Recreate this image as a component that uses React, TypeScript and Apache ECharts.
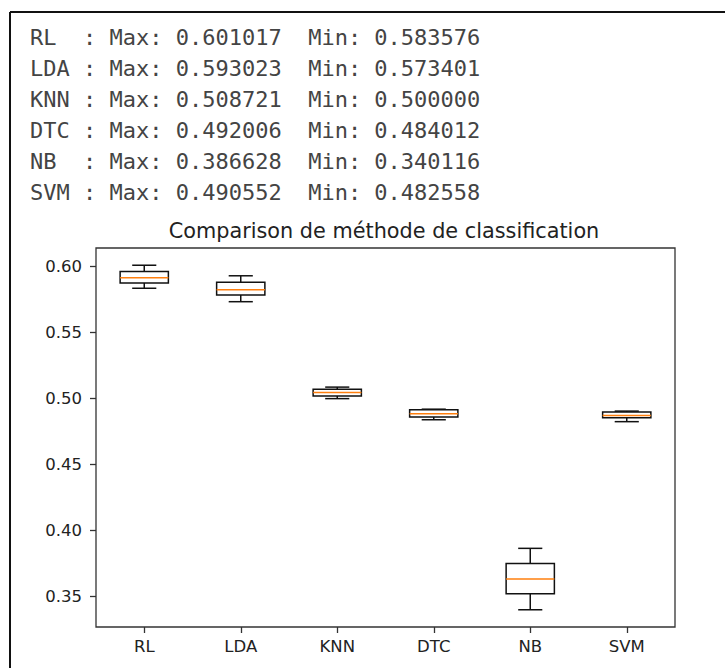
import React, { useEffect, useRef } from "react";
import * as echarts from "echarts";

const categories = ["RL", "LDA", "KNN", "DTC", "NB", "SVM"];
const whiskerMin = [0.583576, 0.573401, 0.5, 0.484012, 0.340116, 0.482558];
const whiskerMax = [0.601017, 0.593023, 0.508721, 0.492006, 0.386628, 0.490552];
const q1 = [0.5875, 0.5784, 0.502, 0.486, 0.3523, 0.4855];
const median = [0.5916, 0.5825, 0.5046, 0.4886, 0.3635, 0.4873];
const q3 = [0.5962, 0.5881, 0.5071, 0.4915, 0.3751, 0.4898];
const yTicks = [0.35, 0.4, 0.45, 0.5, 0.55, 0.6];
const titleText = "Comparison de méthode de classification";

export default function App() {
  const ref = useRef<HTMLDivElement>(null);
  useEffect(() => {
    if (!ref.current) return;
    const chart = echarts.init(ref.current, null, { renderer: "svg" });

    const lines = categories.map(
      (c, i) =>
        `${c.padEnd(3, " ")} : Max: ${whiskerMax[i].toFixed(6)}  Min: ${whiskerMin[i].toFixed(6)}`
    );

    const monoTexts = lines.map((t, i) => ({
      type: "text",
      x: 30,
      y: 37.5 + 31 * i,
      style: {
        text: t,
        font: '22px "DejaVu Sans Mono", monospace',
        fill: "#444",
        textAlign: "left",
        textVerticalAlign: "middle",
      },
    }));

    const data = categories.map((c, i) => [i, whiskerMin[i], q1[i], median[i], q3[i], whiskerMax[i]]);

    const option: any = {
      animation: false,
      grid: {
        left: 96,
        right: 50,
        top: 248,
        bottom: 41,
        show: true,
        borderColor: "#333",
        borderWidth: 1.3,
        backgroundColor: "transparent",
      },
      xAxis: {
        type: "category",
        data: categories,
        boundaryGap: true,
        axisLine: { show: false },
        axisTick: { show: true, alignWithLabel: true, length: 6, lineStyle: { color: "#333", width: 1.3 } },
        axisLabel: {
          color: "#222",
          fontFamily: "DejaVu Sans",
          fontSize: 16.5,
          margin: 11,
        },
        splitLine: { show: false },
      },
      yAxis: {
        type: "value",
        min: 0.32707,
        max: 0.61406,
        axisLine: { show: false },
        axisTick: {
          show: true,
          length: 6,
          customValues: yTicks,
          lineStyle: { color: "#333", width: 1.3 },
        },
        axisLabel: {
          color: "#222",
          fontFamily: "DejaVu Sans",
          fontSize: 16.5,
          margin: 14,
          customValues: yTicks,
          formatter: (v: number) => v.toFixed(2),
        },
        splitLine: { show: false },
      },
      graphic: [
        {
          type: "line",
          shape: { x1: 10, y1: 12, x2: 725, y2: 12 },
          style: { stroke: "#111", lineWidth: 2 },
        },
        {
          type: "line",
          shape: { x1: 10, y1: 12, x2: 10, y2: 668 },
          style: { stroke: "#111", lineWidth: 2 },
        },
        ...monoTexts,
        {
          type: "text",
          x: 384,
          y: 231,
          style: {
            text: titleText,
            font: '20.8px "DejaVu Sans", sans-serif',
            fill: "#222",
            textAlign: "center",
            textVerticalAlign: "middle",
          },
        },
      ],
      series: [
        {
          type: "custom",
          data,
          encode: { x: 0, y: [1, 2, 3, 4, 5] },
          renderItem: (params: any, api: any) => {
            const x = api.value(0);
            const lo = api.coord([x, api.value(1)]);
            const b1 = api.coord([x, api.value(2)]);
            const md = api.coord([x, api.value(3)]);
            const b3 = api.coord([x, api.value(4)]);
            const hi = api.coord([x, api.value(5)]);
            const band = api.size([1, 0])[0];
            const bw = band * 0.5;
            const cw = bw / 2;
            const cx = lo[0];
            const stroke = { stroke: "#111", lineWidth: 1.5, fill: "none" };
            return {
              type: "group",
              children: [
                { type: "line", shape: { x1: cx, y1: b3[1], x2: cx, y2: hi[1] }, style: stroke },
                { type: "line", shape: { x1: cx, y1: b1[1], x2: cx, y2: lo[1] }, style: stroke },
                { type: "line", shape: { x1: cx - cw / 2, y1: hi[1], x2: cx + cw / 2, y2: hi[1] }, style: stroke },
                { type: "line", shape: { x1: cx - cw / 2, y1: lo[1], x2: cx + cw / 2, y2: lo[1] }, style: stroke },
                {
                  type: "rect",
                  shape: { x: cx - bw / 2, y: b3[1], width: bw, height: b1[1] - b3[1] },
                  style: stroke,
                },
                {
                  type: "line",
                  shape: { x1: cx - bw / 2, y1: md[1], x2: cx + bw / 2, y2: md[1] },
                  style: { stroke: "#ff7f0e", lineWidth: 1.5 },
                },
              ],
            };
          },
        },
      ],
    };
    chart.setOption(option);
    return () => chart.dispose();
  }, []);
  return (
    <div
      ref={ref}
      style={{ position: "absolute", left: 0, top: 0, width: 725, height: 668, background: "#fff" }}
    />
  );
}
